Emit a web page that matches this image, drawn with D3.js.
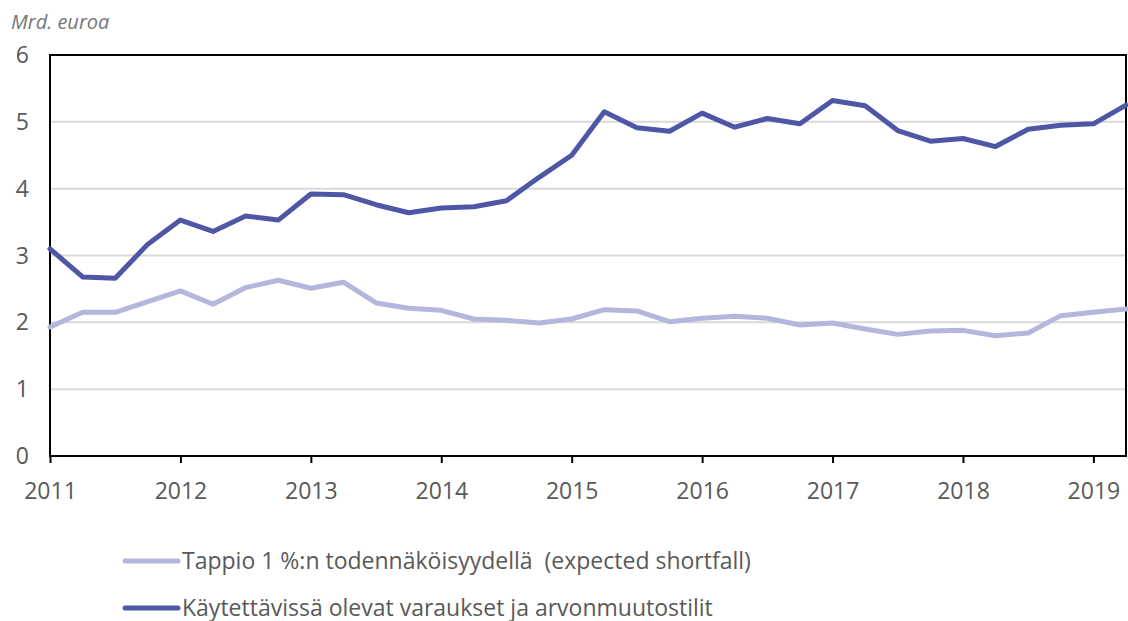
<!DOCTYPE html>
<html>
<head>
<meta charset="utf-8">
<script src="https://cdn.jsdelivr.net/npm/d3@7"></script>
<style>
  body { margin: 0; background: #fff; }
  svg text { font-family: "Open Sans", sans-serif; fill: #595959; white-space: pre; }
</style>
</head>
<body>
<div id="chart"></div>
<script>
// quarterly observations, 2011 Q1 .. 2019 Q2
const startYear = 2011;
const yearTicks = [2011, 2012, 2013, 2014, 2015, 2016, 2017, 2018, 2019];
const valueTicks = [0, 1, 2, 3, 4, 5, 6];

const shortfall = [1.93, 2.15, 2.15, 2.31, 2.47, 2.27, 2.52, 2.63, 2.51, 2.60,
    2.29, 2.21, 2.18, 2.05, 2.03, 1.99, 2.05, 2.19, 2.17, 2.01,
    2.06, 2.09, 2.06, 1.96, 1.99, 1.90, 1.82, 1.87, 1.88, 1.80,
    1.84, 2.10, 2.15, 2.20];
const reserves = [3.10, 2.68, 2.66, 3.17, 3.53, 3.36, 3.59, 3.53, 3.92, 3.91,
    3.76, 3.64, 3.71, 3.73, 3.82, 4.17, 4.50, 5.15, 4.91, 4.86,
    5.13, 4.92, 5.05, 4.97, 5.32, 5.24, 4.87, 4.71, 4.75, 4.63,
    4.89, 4.95, 4.97, 5.25];

const seriesNames = ["Tappio 1 %:n todennäköisyydellä  (expected shortfall)",
    "Käytettävissä olevat varaukset ja arvonmuutostilit"];
const seriesColors = ["#b4b6dc", "#4e56a6"];

const width = 1128, height = 621;
const plotLeft = 50, plotRight = 1126, plotTop = 55, plotBottom = 456;

const x = d3.scaleLinear().domain([2011, 2019.25]).range([plotLeft, plotRight]);
const y = d3.scaleLinear().domain([0, 6]).range([plotBottom, plotTop]);

const svg = d3.select("#chart").append("svg")
    .attr("width", width)
    .attr("height", height);

svg.append("text")
    .attr("x", 11).attr("y", 29)
    .style("font-style", "italic")
    .style("font-size", "20px")
    .style("fill", "#767676")
    .text("Mrd. euroa");

// gridlines
svg.append("g")
    .selectAll("line")
    .data(valueTicks.filter(v => v > 0 && v < 6))
    .enter().append("line")
    .attr("x1", plotLeft).attr("x2", plotRight)
    .attr("y1", d => y(d)).attr("y2", d => y(d))
    .attr("stroke", "#d9d9d9")
    .attr("stroke-width", 2);

// y labels
svg.append("g")
    .selectAll("text")
    .data(valueTicks)
    .enter().append("text")
    .attr("x", 29)
    .attr("y", d => y(d))
    .attr("dy", "0.35em")
    .attr("text-anchor", "end")
    .style("font-size", "23px")
    .text(d => d);

// x axis ticks + labels
const xAxis = d3.axisBottom(x).tickValues(yearTicks).tickFormat(d3.format("d"))
    .tickSize(7).tickPadding(20);
const gx = svg.append("g")
    .attr("transform", `translate(0,${plotBottom})`)
    .call(xAxis);
gx.select(".domain").remove();
gx.selectAll("line").attr("stroke", "#000").attr("stroke-width", 2);
gx.selectAll("text").style("font-size", "23px").attr("fill", "#595959")
    .style("font-family", "'Open Sans', sans-serif");

// frame
svg.append("rect")
    .attr("x", plotLeft).attr("y", plotTop)
    .attr("width", plotRight - plotLeft).attr("height", plotBottom - plotTop)
    .attr("fill", "none")
    .attr("stroke", "#000")
    .attr("stroke-width", 2);

const line = d3.line()
    .x((d, i) => x(startYear + i * 0.25))
    .y(d => y(d));

[shortfall, reserves].forEach((s, k) => {
    svg.append("path")
        .datum(s)
        .attr("d", line)
        .attr("fill", "none")
        .attr("stroke", seriesColors[k])
        .attr("stroke-width", 5)
        .attr("stroke-linejoin", "round")
        .attr("stroke-linecap", "round");
});

// legend
const legend = svg.append("g");
seriesNames.forEach((name, k) => {
    const ly = 561 + k * 47;
    legend.append("line")
        .attr("x1", 125).attr("x2", 178)
        .attr("y1", ly).attr("y2", ly)
        .attr("stroke", seriesColors[k])
        .attr("stroke-width", 5)
        .attr("stroke-linecap", "round");
    legend.append("text")
        .attr("x", 182).attr("y", ly)
        .attr("dy", "0.35em")
        .style("font-size", "23px")
        .text(name);
});
</script>
</body>
</html>
